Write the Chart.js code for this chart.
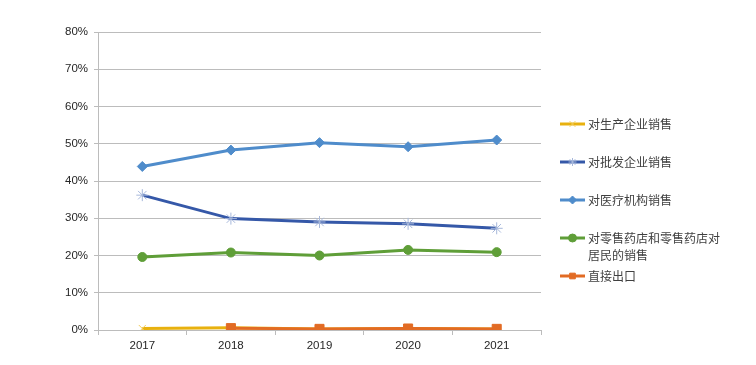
<!DOCTYPE html>
<html>
<head>
<meta charset="utf-8">
<script src="https://cdn.jsdelivr.net/npm/chart.js@4"></script>
<style>
  html, body { margin: 0; padding: 0; background: #fff; }
  #wrap { width: 756px; height: 365px; }
</style>
</head>
<body>
<div id="wrap"><canvas id="chart_canvas" width="756" height="365"></canvas></div>
<script>
// données
const years = ['2017', '2018', '2019', '2020', '2021']
const seriesNames = ['对生产企业销售', '对批发企业销售', '对医疗机构销售', ['对零售药店和零售药店对', '居民的销售'], '直接出口']
const production = [0.4, 0.6, 0.3, 0.4, 0.3]
const wholesale = [36.2, 29.9, 29.0, 28.5, 27.3]
const medical = [43.9, 48.3, 50.3, 49.2, 51.0]
const retail = [19.6, 20.8, 20.0, 21.5, 20.9]
const exportSales = [null, 0.5, 0.3, 0.4, 0.3]
const yTicks = [0, 10, 20, 30, 40, 50, 60, 70, 80]

const gridColor = '#bcbcbc'

// légende dessinée à la main (ligne + marqueur)
const sideLegend = {
    id: 'sideLegend',
    afterDraw(chart) {
        const ctx = chart.ctx
        const x0 = chart.chartArea.right + 19
        let y = 124
        chart.data.datasets.forEach((ds, i) => {
            ctx.save()
            ctx.strokeStyle = ds.borderColor
            ctx.lineWidth = 3
            ctx.beginPath()
            ctx.moveTo(x0, y)
            ctx.lineTo(x0 + 25, y)
            ctx.stroke()
            ctx.fillStyle = ds.pointBackgroundColor
            ctx.strokeStyle = ds.pointBorderColor
            ctx.lineWidth = ds.pointBorderWidth || 1
            Chart.helpers.drawPoint(ctx, {
                pointStyle: ds.pointStyle,
                rotation: 0,
                borderWidth: ds.pointBorderWidth || 1,
                radius: Math.min(ds.pointRadius, 4)
            }, x0 + 12.5, y)
            ctx.fillStyle = '#404040'
            ctx.font = '12px "Noto Sans CJK SC"'
            ctx.textBaseline = 'middle'
            const lines = Array.isArray(seriesNames[i]) ? seriesNames[i] : [seriesNames[i]]
            lines.forEach((t, k) => ctx.fillText(t, x0 + 28, y + k * 17))
            ctx.restore()
            y += 38
        })
    }
}

const data = {
    labels: years,
    datasets: [{
        label: '对生产企业销售',
        data: production,
        borderColor: '#e8b10e',
        pointStyle: 'crossRot',
        pointRadius: 5,
        pointBackgroundColor: '#f2cc5a',
        pointBorderColor: '#f2cc5a',
        pointBorderWidth: 1,
        order: 1
    }, {
        label: '对批发企业销售',
        data: wholesale,
        borderColor: '#3558a8',
        pointStyle: 'star',
        pointRadius: 6,
        pointBackgroundColor: '#a7b8db',
        pointBorderColor: '#a7b8db',
        pointBorderWidth: 1
    }, {
        label: '对医疗机构销售',
        data: medical,
        borderColor: '#4f8ccb',
        pointStyle: 'rectRot',
        pointRadius: 5,
        pointBackgroundColor: '#4f8ccb',
        pointBorderColor: '#4f8ccb',
        pointBorderWidth: 1
    }, {
        label: '对零售药店和零售药店对居民的销售',
        data: retail,
        borderColor: '#5f9e38',
        pointStyle: 'circle',
        pointRadius: 4.5,
        pointBackgroundColor: '#5f9e38',
        pointBorderColor: '#5f9e38',
        pointBorderWidth: 1
    }, {
        label: '直接出口',
        data: exportSales,
        borderColor: '#e26b24',
        pointStyle: 'rect',
        pointRadius: 6.4,
        pointBackgroundColor: '#e26b24',
        pointBorderColor: '#e26b24',
        pointBorderWidth: 1
    }]
}

const config = {
    type: 'line',
    data,
    options: {
        responsive: false,
        animation: false,
        devicePixelRatio: 1,
        elements: {
            line: { borderWidth: 3, tension: 0 }
        },
        layout: {
            padding: { left: 40, right: 215, top: 32, bottom: 0 }
        },
        scales: {
            x: {
                offset: true,
                grid: {
                    offset: true,
                    drawOnChartArea: false,
                    tickLength: 5,
                    color: gridColor
                },
                border: { color: gridColor },
                ticks: {
                    color: '#262626',
                    padding: 4,
                    font: { family: '"Liberation Sans"', size: 11.5 }
                },
                afterFit: (scale) => { scale.height = 35 }
            },
            y: {
                min: 0,
                max: 80,
                afterBuildTicks: (scale) => { scale.ticks = yTicks.map(v => ({ value: v })) },
                grid: {
                    color: gridColor,
                    tickLength: 4
                },
                border: { color: gridColor },
                ticks: {
                    color: '#262626',
                    padding: 6,
                    font: { family: '"Liberation Sans"', size: 11.5 },
                    callback: (v) => v + '%'
                },
                afterFit: (scale) => { scale.width = 58 }
            }
        },
        plugins: {
            legend: { display: false },
            tooltip: { enabled: false }
        }
    },
    plugins: [sideLegend]
}

const ctx = document.getElementById('chart_canvas').getContext('2d')
new Chart(ctx, config)
</script>
</body>
</html>
